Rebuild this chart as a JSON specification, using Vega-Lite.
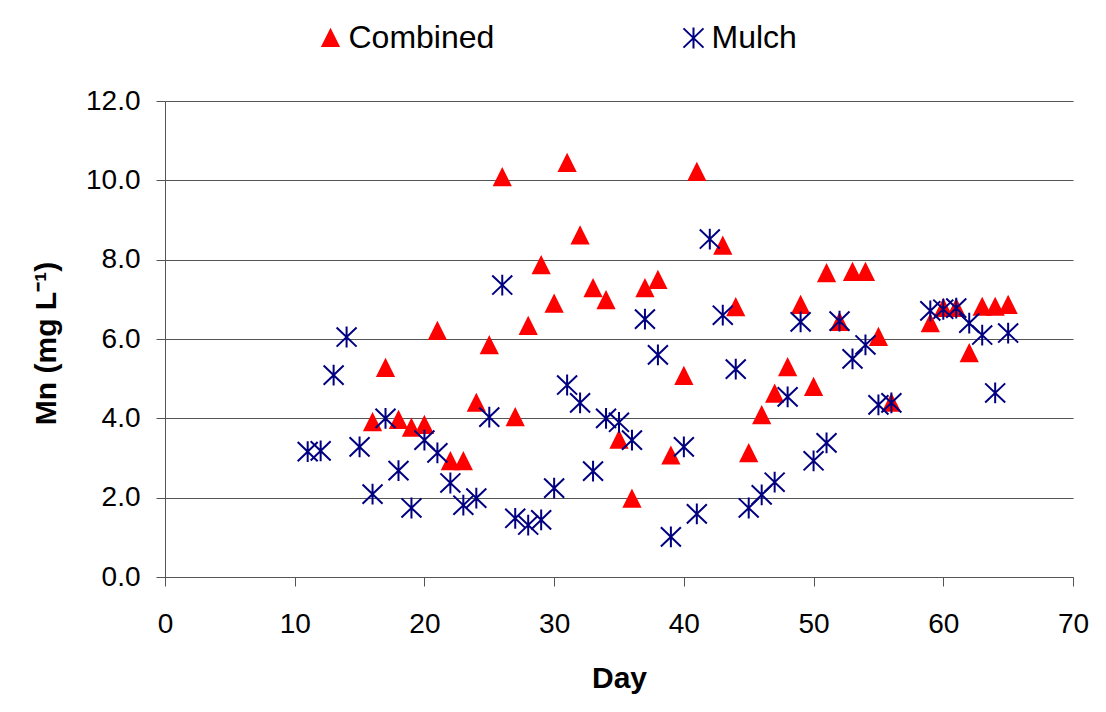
{
  "$schema": "https://vega.github.io/schema/vega-lite/v6.json",
  "autosize": "none",
  "width": 908,
  "height": 476,
  "padding": {"left": 165, "top": 101, "right": 33, "bottom": 135},
  "background": "white",
  "data": {
    "values": [
      {"day": 16, "mn": 3.9, "series": "Combined"},
      {"day": 17, "mn": 5.27, "series": "Combined"},
      {"day": 18, "mn": 3.96, "series": "Combined"},
      {"day": 19, "mn": 3.76, "series": "Combined"},
      {"day": 20, "mn": 3.83, "series": "Combined"},
      {"day": 21, "mn": 6.2, "series": "Combined"},
      {"day": 22, "mn": 2.92, "series": "Combined"},
      {"day": 23, "mn": 2.92, "series": "Combined"},
      {"day": 24, "mn": 4.39, "series": "Combined"},
      {"day": 25, "mn": 5.84, "series": "Combined"},
      {"day": 26, "mn": 10.08, "series": "Combined"},
      {"day": 27, "mn": 4.03, "series": "Combined"},
      {"day": 28, "mn": 6.33, "series": "Combined"},
      {"day": 29, "mn": 7.86, "series": "Combined"},
      {"day": 30, "mn": 6.89, "series": "Combined"},
      {"day": 31, "mn": 10.44, "series": "Combined"},
      {"day": 32, "mn": 8.61, "series": "Combined"},
      {"day": 33, "mn": 7.28, "series": "Combined"},
      {"day": 34, "mn": 6.98, "series": "Combined"},
      {"day": 35, "mn": 3.46, "series": "Combined"},
      {"day": 36, "mn": 1.97, "series": "Combined"},
      {"day": 37, "mn": 7.28, "series": "Combined"},
      {"day": 38, "mn": 7.49, "series": "Combined"},
      {"day": 39, "mn": 3.06, "series": "Combined"},
      {"day": 40, "mn": 5.07, "series": "Combined"},
      {"day": 41, "mn": 10.21, "series": "Combined"},
      {"day": 43, "mn": 8.35, "series": "Combined"},
      {"day": 44, "mn": 6.8, "series": "Combined"},
      {"day": 45, "mn": 3.12, "series": "Combined"},
      {"day": 46, "mn": 4.08, "series": "Combined"},
      {"day": 47, "mn": 4.62, "series": "Combined"},
      {"day": 48, "mn": 5.29, "series": "Combined"},
      {"day": 49, "mn": 6.86, "series": "Combined"},
      {"day": 50, "mn": 4.79, "series": "Combined"},
      {"day": 51, "mn": 7.66, "series": "Combined"},
      {"day": 52, "mn": 6.43, "series": "Combined"},
      {"day": 53, "mn": 7.69, "series": "Combined"},
      {"day": 54, "mn": 7.69, "series": "Combined"},
      {"day": 55, "mn": 6.05, "series": "Combined"},
      {"day": 56, "mn": 4.39, "series": "Combined"},
      {"day": 59, "mn": 6.4, "series": "Combined"},
      {"day": 60, "mn": 6.78, "series": "Combined"},
      {"day": 61, "mn": 6.78, "series": "Combined"},
      {"day": 62, "mn": 5.64, "series": "Combined"},
      {"day": 63, "mn": 6.81, "series": "Combined"},
      {"day": 64, "mn": 6.81, "series": "Combined"},
      {"day": 65, "mn": 6.86, "series": "Combined"},
      {"day": 11, "mn": 3.16, "series": "Mulch"},
      {"day": 12, "mn": 3.18, "series": "Mulch"},
      {"day": 13, "mn": 5.09, "series": "Mulch"},
      {"day": 14, "mn": 6.05, "series": "Mulch"},
      {"day": 15, "mn": 3.28, "series": "Mulch"},
      {"day": 16, "mn": 2.09, "series": "Mulch"},
      {"day": 17, "mn": 4.0, "series": "Mulch"},
      {"day": 18, "mn": 2.68, "series": "Mulch"},
      {"day": 19, "mn": 1.74, "series": "Mulch"},
      {"day": 20, "mn": 3.45, "series": "Mulch"},
      {"day": 21, "mn": 3.13, "series": "Mulch"},
      {"day": 22, "mn": 2.37, "series": "Mulch"},
      {"day": 23, "mn": 1.81, "series": "Mulch"},
      {"day": 24, "mn": 1.99, "series": "Mulch"},
      {"day": 25, "mn": 4.03, "series": "Mulch"},
      {"day": 26, "mn": 7.36, "series": "Mulch"},
      {"day": 27, "mn": 1.48, "series": "Mulch"},
      {"day": 28, "mn": 1.31, "series": "Mulch"},
      {"day": 29, "mn": 1.44, "series": "Mulch"},
      {"day": 30, "mn": 2.24, "series": "Mulch"},
      {"day": 31, "mn": 4.84, "series": "Mulch"},
      {"day": 32, "mn": 4.39, "series": "Mulch"},
      {"day": 33, "mn": 2.67, "series": "Mulch"},
      {"day": 34, "mn": 4.0, "series": "Mulch"},
      {"day": 35, "mn": 3.9, "series": "Mulch"},
      {"day": 36, "mn": 3.45, "series": "Mulch"},
      {"day": 37, "mn": 6.5, "series": "Mulch"},
      {"day": 38, "mn": 5.6, "series": "Mulch"},
      {"day": 39, "mn": 1.01, "series": "Mulch"},
      {"day": 40, "mn": 3.28, "series": "Mulch"},
      {"day": 41, "mn": 1.59, "series": "Mulch"},
      {"day": 42, "mn": 8.52, "series": "Mulch"},
      {"day": 43, "mn": 6.6, "series": "Mulch"},
      {"day": 44, "mn": 5.24, "series": "Mulch"},
      {"day": 45, "mn": 1.74, "series": "Mulch"},
      {"day": 46, "mn": 2.07, "series": "Mulch"},
      {"day": 47, "mn": 2.39, "series": "Mulch"},
      {"day": 48, "mn": 4.54, "series": "Mulch"},
      {"day": 49, "mn": 6.43, "series": "Mulch"},
      {"day": 50, "mn": 2.93, "series": "Mulch"},
      {"day": 51, "mn": 3.38, "series": "Mulch"},
      {"day": 52, "mn": 6.45, "series": "Mulch"},
      {"day": 53, "mn": 5.5, "series": "Mulch"},
      {"day": 54, "mn": 5.85, "series": "Mulch"},
      {"day": 55, "mn": 4.34, "series": "Mulch"},
      {"day": 56, "mn": 4.39, "series": "Mulch"},
      {"day": 59, "mn": 6.71, "series": "Mulch"},
      {"day": 60, "mn": 6.75, "series": "Mulch"},
      {"day": 61, "mn": 6.78, "series": "Mulch"},
      {"day": 62, "mn": 6.4, "series": "Mulch"},
      {"day": 63, "mn": 6.1, "series": "Mulch"},
      {"day": 64, "mn": 4.64, "series": "Mulch"},
      {"day": 65, "mn": 6.15, "series": "Mulch"}
    ]
  },
  "mark": {"type": "point", "size": 256, "strokeWidth": 2, "opacity": 1},
  "encoding": {
    "x": {
      "field": "day", "type": "quantitative",
      "scale": {"domain": [0, 70], "nice": false, "zero": false},
      "axis": {
        "title": "Day",
        "values": [0, 10, 20, 30, 40, 50, 60, 70],
        "grid": false,
        "labelPadding": 24,
        "titlePadding": 25,
        "labelFlush": false
      }
    },
    "y": {
      "field": "mn", "type": "quantitative",
      "scale": {"domain": [0, 12], "nice": false},
      "axis": {
        "title": "Mn (mg L⁻¹)",
        "values": [0, 2, 4, 6, 8, 10, 12],
        "format": ".1f",
        "grid": true,
        "labelPadding": 16,
        "titleAngle": -90,
        "titleAlign": "center",
        "titleBaseline": "alphabetic",
        "titleX": -110,
        "titleY": 242,
        "labelFlush": false
      }
    },
    "shape": {
      "field": "series", "type": "nominal",
      "scale": {"domain": ["Combined", "Mulch"], "range": ["M0,-1L1,1L-1,1Z", "M0,-1.3L0,1.3M-1.25,-1.2L1.25,1.2M-1.25,1.2L1.25,-1.2"]},
      "legend": {"title": null}
    },
    "fill": {
      "field": "series", "type": "nominal",
      "scale": {"domain": ["Combined", "Mulch"], "range": ["#FF0000", "transparent"]},
      "legend": {"title": null}
    },
    "stroke": {
      "field": "series", "type": "nominal",
      "scale": {"domain": ["Combined", "Mulch"], "range": ["#FF0000", "#000080"]},
      "legend": {"title": null}
    }
  },
  "config": {
    "view": {"stroke": null},
    "font": "Liberation Sans",
    "axis": {
      "labelFont": "Liberation Sans",
      "labelFontSize": 28,
      "labelColor": "#000000",
      "titleFont": "Liberation Sans",
      "titleFontSize": 30,
      "titleFontWeight": "bold",
      "titleColor": "#000000",
      "domainColor": "#555555",
      "domainWidth": 1,
      "tickColor": "#555555",
      "tickSize": 9,
      "tickWidth": 1,
      "gridColor": "#555555",
      "gridWidth": 1
    },
    "legend": {
      "orient": "none",
      "legendX": 149.5,
      "legendY": -79,
      "direction": "horizontal",
      "columns": 2,
      "columnPadding": 183,
      "padding": 0,
      "labelFont": "Liberation Sans",
      "labelFontSize": 32,
      "labelColor": "#000000",
      "labelOffset": 2,
      "labelLimit": 400,
      "symbolSize": 256,
      "symbolStrokeWidth": 2
    }
  }
}
